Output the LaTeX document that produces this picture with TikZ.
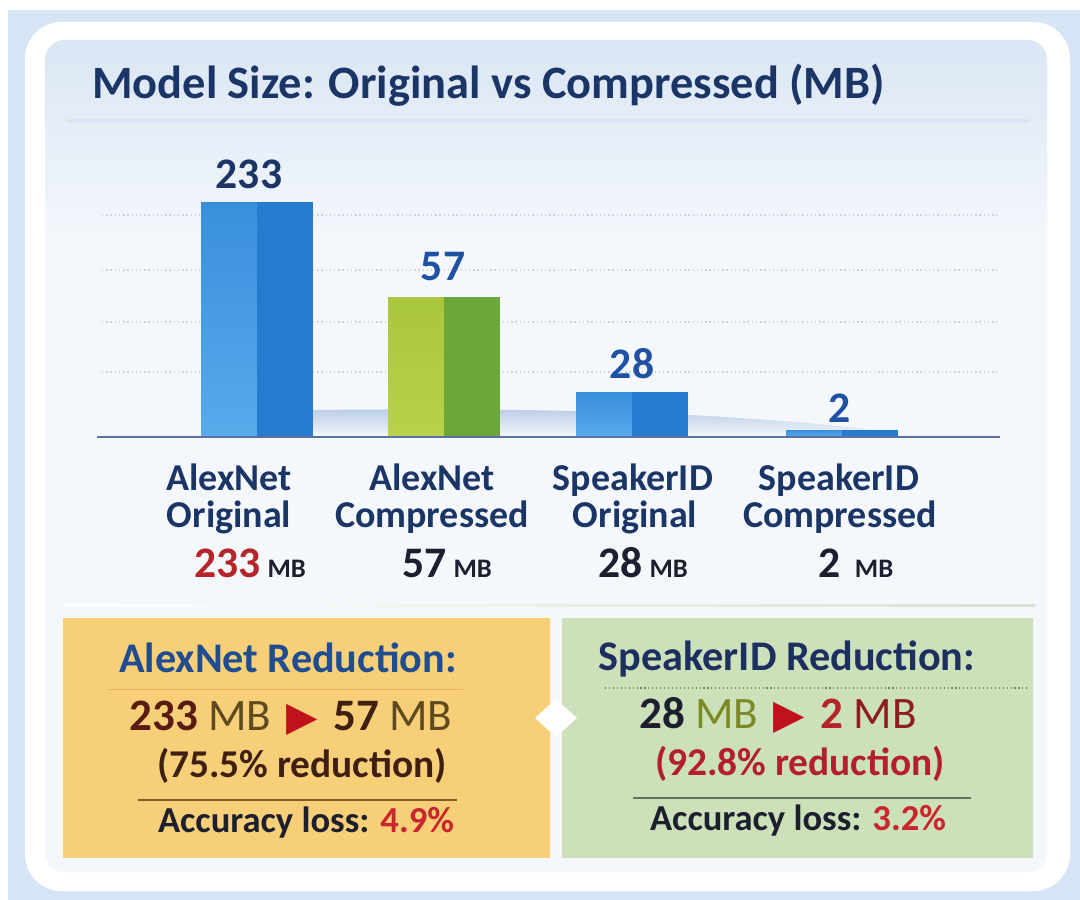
\documentclass[tikz,border=0pt]{standalone}
\usepackage{fontspec}
\setmainfont{Carlito}
\newfontfamily\symfont{DejaVu Sans}
\usetikzlibrary{positioning,shapes.geometric}

\definecolor{outerBlue}{HTML}{D6E5F5}
\definecolor{panelTop}{HTML}{DAE6F4}
\definecolor{panelBot}{HTML}{F4F7FC}
\definecolor{navy}{HTML}{1A3566}
\definecolor{valBlue}{HTML}{1F52A3}
\definecolor{barBlueT}{HTML}{3A8FDD}
\definecolor{barBlueB}{HTML}{58AAEA}
\definecolor{barBlueR}{HTML}{257BCD}
\definecolor{barGreenT}{HTML}{A9C63F}
\definecolor{barGreenB}{HTML}{B8D24A}
\definecolor{barGreenR}{HTML}{6BA73A}
\definecolor{shadowBlue}{HTML}{B9CCE5}
\definecolor{gridGray}{HTML}{CBD3DE}
\definecolor{axisBlue}{HTML}{5A72A0}
\definecolor{redNum}{HTML}{B5252A}
\definecolor{boxOrange}{HTML}{F6CF78}
\definecolor{boxOrangeM}{HTML}{FBE2A4}
\definecolor{boxGreen}{HTML}{CCE1BA}
\definecolor{boxGreenM}{HTML}{DCEBCE}
\definecolor{headBlue}{HTML}{1F4D8F}
\definecolor{headNavy}{HTML}{1C2F5E}
\definecolor{maroon}{HTML}{5A1C12}
\definecolor{oliveBrown}{HTML}{5E4A1E}
\definecolor{arrowRed}{HTML}{C0121D}
\definecolor{darkBrown}{HTML}{3F1F12}
\definecolor{inkDark}{HTML}{1D1F2E}
\definecolor{lossRed}{HTML}{C9262E}
\definecolor{olive}{HTML}{7B8A25}
\definecolor{redMid}{HTML}{B31F2F}
\definecolor{redDark}{HTML}{8F1D20}

\newcommand{\fsz}[1]{\fontsize{#1}{#1}\selectfont}
\newcommand{\playArrow}{\hspace{11pt}\textcolor{arrowRed}{\symfont\fsz{29}▶}\hspace{11pt}}

\tikzset{
    blueBar/.pic={
        \shade[top color=barBlueT, bottom color=barBlueB] (-56,0) rectangle (0,-#1);
        \fill[barBlueR] (0,0) rectangle (56,-#1);
    }
}
\tikzset{
    greenBar/.pic={
        \shade[top color=barGreenT, bottom color=barGreenB] (-56,0) rectangle (0,-#1);
        \fill[barGreenR] (0,0) rectangle (56,-#1);
    }
}
\tikzset{
    titleText/.style={font=\fsz{33}\bfseries, text=navy, anchor=base west, inner sep=0},
    valText/.style={font=\fsz{31}\bfseries, text=valBlue, anchor=base, inner sep=0},
    catText/.style={font=\fsz{27}\bfseries, text=navy, anchor=base, inner sep=0},
    sizeText/.style={font=\fsz{31}\bfseries, text=inkDark, anchor=base, inner sep=0},
    boxHead/.style={font=\fsz{30}\bfseries, anchor=base, inner sep=0},
    boxMain/.style={font=\fsz{32}, anchor=base, inner sep=0},
    boxNote/.style={font=\fsz{28}\bfseries, anchor=base, inner sep=0},
    boxLoss/.style={font=\fsz{26}\bfseries, text=inkDark, anchor=base, inner sep=0},
    gridLine/.style={gridGray, dotted, line width=1pt}
}

\begin{document}
\begin{tikzpicture}[x=0.025cm, y=-0.025cm]
        \useasboundingbox (0,0) rectangle (1080,900);
        % card and panel
        \fill[white] (0,0) rectangle (1080,900);
        \fill[outerBlue] (8,10) rectangle (1080,900);
        \fill[white, rounded corners=26pt] (25,22) rectangle (1070,891);
        \fill[panelBot, rounded corners=14pt] (45,40) rectangle (1047,872);
        \shade[top color=panelTop, bottom color=panelBot, rounded corners=14pt] (45,40) rectangle (1047,240);
        \shade[left color=panelTop, middle color=navy!85, right color=panelTop] (66,120) rectangle (1030,123);
        \node[titleText] (title) at (92,99) {Model Size: Original vs Compressed (MB)};
        % grid and axis
        \foreach \gy in {215,270,322,372}
            \draw[gridLine] (102,\gy) -- (997,\gy);
        \shade[top color=shadowBlue, bottom color=panelBot] (313,437) -- (313,410) .. controls (520,408) and (720,410) .. (900,433) -- (900,437) -- cycle;
        \pic at (257,437) {blueBar={235}};
        \pic at (444,437) {greenBar={140}};
        \pic at (632,437) {blueBar={45}};
        \pic at (842,437) {blueBar={7}};
        \draw[axisBlue, line width=2pt] (97,437) -- (1000,437);
        \node[valText, text=navy] (valA) at (249,188) {233};
        \node[valText] (valB) at (443,280) {57};
        \node[valText] (valC) at (632,378) {28};
        \node[valText] (valD) at (840,422) {2};
        % category labels
        \node[catText] (catA1) at (229,490) {AlexNet};
        \node[catText] (catA2) at (229,527) {Original};
        \node[sizeText] (catA3) at (250,577) {\textcolor{redNum}{233}\,{\fsz{19}MB}};
        \node[catText] (catB1) at (432,490) {AlexNet};
        \node[catText] (catB2) at (432,527) {Compressed};
        \node[sizeText] (catB3) at (447,577) {57\,{\fsz{19}MB}};
        \node[catText] (catC1) at (633,490) {SpeakerID};
        \node[catText] (catC2) at (635,527) {Original};
        \node[sizeText] (catC3) at (643,577) {28\,{\fsz{19}MB}};
        \node[catText] (catD1) at (839,490) {SpeakerID};
        \node[catText] (catD2) at (840,527) {Compressed};
        \node[sizeText] (catD3) at (856,577) {2\hspace{10pt}{\fsz{19}MB}};
        % reduction boxes
        \shade[left color=white, middle color=boxOrange!60!brown!60!white, right color=boxGreen!80!black!40!white] (65,604) rectangle (1035,606);
        \shade[left color=boxOrange, middle color=boxOrangeM, right color=boxOrange] (63,618) rectangle (550,857);
        \shade[left color=boxGreen, middle color=boxGreenM, right color=boxGreen] (562,618) rectangle (1033,857);
        \fill[white] (556,699) -- (577,718) -- (556,737) -- (535,718) -- cycle;
        \node[boxHead, text=headBlue] (redA) at (288,672) {AlexNet Reduction:};
        \draw[boxOrange!60!brown, line width=0.6pt] (108,689) -- (463,689);
        \node[boxMain] (sizeA) at (291,730) {\textcolor{maroon}{\bfseries 233} \textcolor{oliveBrown}{MB}\playArrow\textcolor{darkBrown}{\bfseries 57} \textcolor{oliveBrown}{MB}};
        \node[boxNote, text=darkBrown] (pctA) at (302,777) {(75.5\% reduction)};
        \draw[brown!70!black, line width=0.8pt] (138,800) -- (457,800);
        \node[boxLoss] (lossA) at (306,832) {Accuracy loss: \textcolor{lossRed}{4.9\%}};
        \node[boxHead, text=headNavy] (redB) at (787,670) {SpeakerID Reduction:};
        \draw[boxGreen!60!black, dotted, line width=0.8pt] (605,688) -- (1030,688);
        \node[boxMain] (sizeB) at (778,728) {\textcolor{inkDark}{\bfseries 28} \textcolor{olive}{MB}\playArrow\textcolor{redNum}{\bfseries 2} \textcolor{redDark}{MB}};
        \node[boxNote, text=redMid] (pctB) at (800,775) {(92.8\% reduction)};
        \draw[boxGreen!50!black, line width=0.8pt] (633,798) -- (971,798);
        \node[boxLoss] (lossB) at (798,830) {Accuracy loss: \textcolor{lossRed}{3.2\%}};
\end{tikzpicture}
\end{document}
